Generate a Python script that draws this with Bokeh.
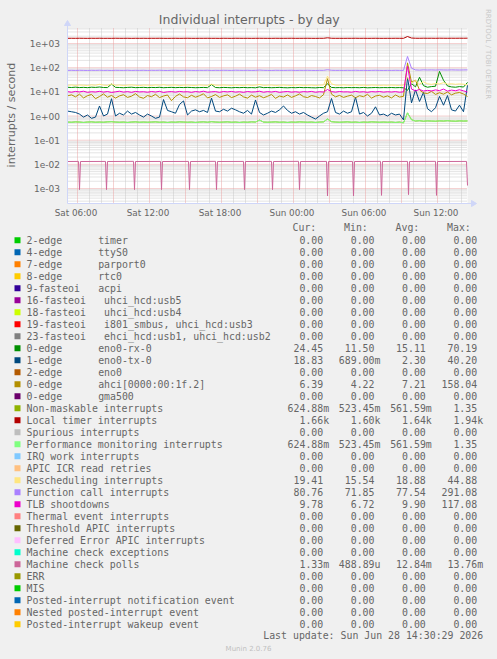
import math
import pandas as pd
from datetime import datetime, timedelta
from bokeh.plotting import figure
from bokeh.models import Range1d, LinearScale, LogScale
from bokeh.core.properties import value
from bokeh.embed import file_html
from bokeh.resources import INLINE

# ---------------- data ----------------
END = datetime(2026, 6, 28, 14, 30)
START = END - timedelta(seconds=120000)
sample_times = pd.date_range(START, END, periods=101)

local_timer = [1640, 1645, 1638, 1650, 1642, 1636, 1648, 1641, 1652, 1639,
               1644, 1637, 1650, 1643, 1640, 1647, 1635, 1645, 1641, 1649,
               1638, 1646, 1642, 1651, 1640, 1636, 1644, 1648, 1639, 1643,
               1650, 1641, 1637, 1645, 1642, 1648, 1640, 1644, 1636, 1647,
               1643, 1639, 1651, 1645, 1640, 1646, 1638, 1642, 1649, 1644,
               1641, 1637, 1648, 1643, 1640, 1645, 1650, 1639, 1644, 1642,
               1647, 1640, 1636, 1645, 1643, 1720, 1649, 1641, 1644, 1638,
               1646, 1642, 1650, 1640, 1645, 1637, 1643, 1648, 1641, 1639,
               1644, 1640, 1647, 1642, 1638, 1940, 1680, 1650, 1645, 1655,
               1648, 1652, 1644, 1658, 1650, 1646, 1653, 1649, 1655, 1651,
               1660]

function_call = [77.2, 77.8, 76.9, 78.1, 77.4, 76.8, 77.9, 77.3, 78.4, 77.0,
                 77.6, 76.7, 78.0, 77.5, 77.1, 78.2, 76.9, 77.7, 77.3, 78.0,
                 76.8, 77.9, 77.4, 78.3, 77.0, 76.6, 77.8, 78.1, 77.2, 77.5,
                 78.0, 77.3, 76.9, 77.7, 77.4, 78.2, 76.8, 77.6, 77.1, 77.9,
                 77.5, 77.0, 78.4, 77.7, 77.2, 77.8, 76.9, 77.4, 79.5, 77.6,
                 77.3, 76.8, 78.0, 77.5, 77.1, 77.7, 78.2, 76.9, 77.6, 77.3,
                 77.8, 77.1, 76.7, 77.6, 77.4, 82.0, 78.0, 77.2, 77.5, 76.9,
                 77.7, 77.3, 78.1, 77.0, 77.6, 76.8, 77.4, 77.9, 77.2, 76.9,
                 77.5, 77.1, 77.8, 77.3, 76.9, 291.1, 95.0, 80.5, 78.9, 81.2,
                 79.8, 80.6, 79.4, 81.0, 80.2, 79.6, 80.9, 80.1, 79.7, 80.4,
                 80.8]

rescheduling = [18.6, 19.2, 18.4, 19.0, 18.8, 18.3, 19.4, 18.7, 20.5, 18.9,
                18.5, 21.0, 18.7, 19.1, 18.4, 18.9, 19.3, 18.6, 18.2, 19.0,
                18.8, 18.4, 19.2, 18.7, 19.6, 18.5, 18.9, 19.1, 18.3, 18.8,
                19.0, 18.6, 18.4, 19.2, 18.8, 18.5, 20.8, 18.9, 18.6, 19.1,
                18.7, 18.3, 19.0, 18.8, 18.4, 19.3, 18.6, 18.9, 20.2, 18.5,
                18.8, 19.1, 18.4, 18.7, 19.0, 18.6, 18.3, 18.9, 19.2, 18.5,
                18.7, 19.0, 18.4, 18.8, 19.1, 44.9, 21.5, 18.9, 18.6, 19.3,
                18.8, 18.5, 19.4, 18.7, 18.9, 18.4, 19.1, 18.8, 18.5, 18.9,
                18.6, 19.0, 18.7, 18.4, 18.9, 40.0, 22.5, 30.0, 21.0, 26.0,
                21.5, 20.4, 22.0, 21.2, 24.0, 20.8, 21.6, 20.5, 21.3, 20.7,
                19.4]

eno0_rx = [15.4, 15.1, 15.6, 15.0, 15.3, 14.9, 15.5, 15.2, 15.8, 15.1,
           15.0, 21.0, 15.3, 15.1, 14.8, 15.2, 15.5, 14.9, 15.1, 15.3,
           14.9, 15.2, 15.0, 15.4, 14.8, 15.1, 15.3, 14.9, 15.2, 15.0,
           15.3, 15.1, 14.8, 15.0, 15.2, 14.9, 20.0, 15.1, 14.8, 15.2,
           15.0, 14.7, 15.1, 14.9, 15.2, 14.8, 15.0, 14.7, 16.0, 14.9,
           15.1, 14.8, 15.0, 15.3, 14.9, 14.7, 15.0, 14.8, 15.2, 14.9,
           15.0, 14.8, 14.6, 15.1, 14.9, 21.5, 15.2, 14.8, 15.0, 14.7,
           15.1, 14.9, 15.0, 14.8, 15.2, 14.7, 14.9, 15.1, 14.8, 15.0,
           14.9, 15.1, 14.8, 15.0, 14.7, 11.5, 22.0, 16.0, 40.0, 18.0,
           15.5, 16.5, 17.0, 70.2, 30.0, 17.5, 16.0, 15.5, 16.5, 15.8,
           24.5]

tlb = [10.2, 9.6, 10.4, 9.9, 10.6, 9.5, 10.1, 9.8, 10.5, 9.7,
       10.3, 9.4, 10.0, 10.6, 9.7, 10.2, 9.5, 10.4, 9.9, 10.1,
       9.6, 10.3, 9.8, 10.5, 9.4, 10.0, 10.2, 9.7, 10.4, 9.9,
       10.1, 9.5, 10.3, 9.8, 10.6, 9.6, 10.0, 10.2, 9.5, 10.3,
       9.9, 10.4, 9.7, 10.1, 9.5, 10.3, 9.8, 10.0, 10.6, 9.6,
       10.2, 9.8, 10.4, 9.5, 10.0, 10.3, 9.7, 10.1, 9.6, 10.2,
       9.9, 10.4, 9.6, 10.1, 9.8, 12.5, 10.2, 9.7, 10.3, 9.9,
       10.0, 9.6, 10.4, 9.8, 10.1, 9.5, 10.2, 9.9, 10.3, 9.7,
       10.1, 9.8, 10.2, 9.6, 10.0, 117.1, 13.0, 11.0, 12.5, 10.8,
       11.5, 10.9, 12.0, 11.2, 13.0, 10.7, 11.8, 11.1, 12.2, 11.0,
       9.8]

ahci = [6.8, 7.5, 6.2, 8.0, 5.6, 6.9, 7.8, 5.2, 6.4, 8.2,
        6.0, 7.1, 5.5, 6.8, 7.6, 5.9, 6.6, 8.4, 6.1, 5.4,
        7.0, 6.3, 7.9, 5.8, 6.7, 7.4, 4.3, 6.5, 8.1, 6.2,
        5.7, 7.2, 6.0, 6.9, 8.3, 5.6, 6.4, 7.7, 5.9, 6.8,
        7.5, 5.8, 6.6, 8.0, 6.2, 5.5, 7.3, 6.0, 6.9, 5.7,
        6.5, 7.8, 5.4, 6.7, 6.1, 7.4, 5.9, 6.8, 8.2, 6.3,
        5.8, 7.0, 6.4, 5.6, 7.6, 35.0, 8.0, 6.2, 7.1, 5.9,
        6.6, 7.3, 5.7, 6.9, 6.3, 7.9, 5.5, 6.7, 7.2, 6.0,
        6.8, 5.6, 7.4, 6.1, 6.5, 158.0, 25.0, 30.0, 12.0, 9.0,
        8.5, 10.5, 7.8, 9.2, 8.0, 9.8, 7.5, 8.8, 9.4, 8.1,
        6.4]

eno0_tx = [1.6, 1.5, 1.4, 1.2, 0.9, 1.1, 0.8, 0.9, 2.6, 1.0,
           1.2, 5.2, 1.0, 1.3, 1.1, 1.6, 1.2, 1.4, 1.1, 0.9,
           1.2, 1.0, 0.8, 0.9, 4.8, 1.7, 1.5, 1.3, 3.0, 4.2,
           1.1, 1.6, 1.8, 1.5, 1.7, 1.4, 5.5, 1.6, 1.5, 1.9,
           1.6, 2.1, 1.8, 1.5, 1.3, 1.7, 1.2, 4.6, 1.4, 1.1,
           1.3, 1.6, 1.4, 1.8, 2.6, 1.7, 1.3, 1.5, 1.2, 1.4,
           1.1, 0.9, 0.75, 1.0, 1.3, 1.5, 5.3, 1.4, 1.2, 1.6,
           1.3, 1.5, 6.0, 1.2, 1.4, 1.0, 1.3, 2.4, 1.1, 1.2,
           1.0, 1.3, 1.1, 1.2, 0.69, 40.2, 3.5, 12.0, 4.0, 9.5,
           2.0, 1.5, 2.2, 6.5, 2.8, 7.0, 1.8, 1.6, 2.8, 1.5,
           18.8]

perf_monitoring = [0.56, 0.55, 0.57, 0.56, 0.54, 0.56, 0.57, 0.55, 0.56, 0.55,
                   0.57, 0.58, 0.56, 0.55, 0.56, 0.54, 0.56, 0.57, 0.55, 0.56,
                   0.55, 0.56, 0.57, 0.55, 0.56, 0.54, 0.56, 0.55, 0.57, 0.56,
                   0.55, 0.56, 0.54, 0.56, 0.57, 0.55, 0.58, 0.56, 0.55, 0.56,
                   0.57, 0.55, 0.56, 0.54, 0.56, 0.55, 0.57, 0.56, 0.68, 0.56,
                   0.55, 0.56, 0.57, 0.55, 0.56, 0.54, 0.56, 0.55, 0.57, 0.56,
                   0.55, 0.56, 0.54, 0.56, 0.57, 0.75, 0.58, 0.56, 0.55, 0.56,
                   0.57, 0.55, 0.56, 0.54, 0.56, 0.55, 0.57, 0.56, 0.55, 0.56,
                   0.55, 0.56, 0.54, 0.56, 0.52, 1.35, 0.70, 0.62, 0.64, 0.61,
                   0.63, 0.62, 0.61, 0.63, 0.62, 0.64, 0.62, 0.61, 0.63, 0.62,
                   0.625]
non_maskable = list(perf_monitoring)

mcp_times = ["2026-06-27 05:10",
             "2026-06-27 06:05", "2026-06-27 06:10", "2026-06-27 06:15",
             "2026-06-27 08:20", "2026-06-27 08:25", "2026-06-27 08:30",
             "2026-06-27 10:40", "2026-06-27 10:45", "2026-06-27 10:50",
             "2026-06-27 12:55", "2026-06-27 13:00", "2026-06-27 13:05",
             "2026-06-27 15:15", "2026-06-27 15:20", "2026-06-27 15:25",
             "2026-06-27 17:30", "2026-06-27 17:35", "2026-06-27 17:40",
             "2026-06-27 19:50", "2026-06-27 19:55", "2026-06-27 20:00",
             "2026-06-27 22:10", "2026-06-27 22:15", "2026-06-27 22:20",
             "2026-06-28 00:25", "2026-06-28 00:30", "2026-06-28 00:35",
             "2026-06-28 02:45", "2026-06-28 02:50", "2026-06-28 02:55",
             "2026-06-28 04:55", "2026-06-28 05:00", "2026-06-28 05:05",
             "2026-06-28 07:15", "2026-06-28 07:20", "2026-06-28 07:25",
             "2026-06-28 09:30", "2026-06-28 09:35", "2026-06-28 09:40",
             "2026-06-28 11:50", "2026-06-28 11:55", "2026-06-28 12:00",
             "2026-06-28 14:25", "2026-06-28 14:30"]
mcp_values = [0.0131,
              0.0132, 0.0009, 0.0131,
              0.0132, 0.0009, 0.0131,
              0.0133, 0.0009, 0.0131,
              0.0132, 0.0009, 0.0131,
              0.0132, 0.0009, 0.0131,
              0.0133, 0.0009, 0.0131,
              0.0132, 0.0009, 0.0131,
              0.0132, 0.0009, 0.0131,
              0.0133, 0.0009, 0.0131,
              0.0132, 0.00049, 0.0131,
              0.0132, 0.00049, 0.0131,
              0.0133, 0.00052, 0.0131,
              0.0132, 0.00056, 0.0131,
              0.0133, 0.00052, 0.0131,
              0.0132, 0.00133]

legend_names = ["2-edge", "4-edge", "7-edge", "8-edge", "9-fasteoi", "16-fasteoi",
                "18-fasteoi", "19-fasteoi", "23-fasteoi", "0-edge", "1-edge", "2-edge",
                "0-edge", "0-edge", "Non-maskable interrupts", "Local timer interrupts",
                "Spurious interrupts", "Performance monitoring interrupts",
                "IRQ work interrupts", "APIC ICR read retries", "Rescheduling interrupts",
                "Function call interrupts", "TLB shootdowns", "Thermal event interrupts",
                "Threshold APIC interrupts", "Deferred Error APIC interrupts",
                "Machine check exceptions", "Machine check polls", "ERR", "MIS",
                "Posted-interrupt notification event", "Nested posted-interrupt event",
                "Posted-interrupt wakeup event"]
legend_desc = ["timer", "ttyS0", "parport0", "rtc0", "acpi", "uhci_hcd:usb5",
               "uhci_hcd:usb4", "i801_smbus, uhci_hcd:usb3", "ehci_hcd:usb1, uhci_hcd:usb2",
               "eno0-rx-0", "eno0-tx-0", "eno0", "ahci[0000:00:1f.2]", "gma500"] + [""] * 19
legend_colors = ["#00CC00", "#0066B3", "#FF8000", "#FFCC00", "#330099", "#990099",
                 "#CCFF00", "#FF0000", "#808080", "#008F00", "#00487D", "#B35A00",
                 "#B38F00", "#6B006B", "#8FB300", "#B30000", "#BEBEBE", "#80FF80",
                 "#80C9FF", "#FFC080", "#FFE680", "#AA80FF", "#EE00CC", "#FF8080",
                 "#666600", "#FFBFFF", "#00FFCC", "#CC6699", "#999900", "#00CC00",
                 "#0066B3", "#FF8000", "#FFCC00"]
Z = "0.00"
cur_vals = [Z] * 9 + ["24.45", "18.83", Z, "6.39", Z, "624.88m", "1.66k", Z, "624.88m",
                      Z, Z, "19.41", "80.76", "9.78", Z, Z, Z, Z, "1.33m", Z, Z, Z, Z, Z]
min_vals = [Z] * 9 + ["11.50", "689.00m", Z, "4.22", Z, "523.45m", "1.60k", Z, "523.45m",
                      Z, Z, "15.54", "71.85", "6.72", Z, Z, Z, Z, "488.89u", Z, Z, Z, Z, Z]
avg_vals = [Z] * 9 + ["15.11", "2.30", Z, "7.21", Z, "561.59m", "1.64k", Z, "561.59m",
                      Z, Z, "18.88", "77.54", "9.90", Z, Z, Z, Z, "12.84m", Z, Z, Z, Z, Z]
max_vals = [Z] * 9 + ["70.19", "40.20", Z, "158.04", Z, "1.35", "1.94k", Z, "1.35",
                      Z, Z, "44.88", "291.08", "117.08", Z, Z, Z, Z, "13.76m", Z, Z, Z, Z, Z]
column_heads = ["Cur:", "Min:", "Avg:", "Max:"]

y_ticks = [1e-3, 1e-2, 1e-1, 1e0, 1e1, 1e2, 1e3]
y_tick_labels = ["1e-03", "1e-02", "1e-01", "1e+00", "1e+01", "1e+02", "1e+03"]
x_tick_times = ["2026-06-27 06:00", "2026-06-27 12:00", "2026-06-27 18:00",
                "2026-06-28 00:00", "2026-06-28 06:00", "2026-06-28 12:00"]
x_tick_labels = ["Sat 06:00", "Sat 12:00", "Sat 18:00", "Sun 00:00", "Sun 06:00", "Sun 12:00"]
Y_MIN, Y_MAX = 10 ** -3.62, 10 ** 3.62

title_text = "Individual interrupts - by day"
y_label_text = "interrupts / second"
last_update_text = "Last update: Sun Jun 28 14:30:29 2026"
watermark_text = "RRDTOOL / TOBI OETIKER"
footer_text = "Munin 2.0.76"

# ---------------- layout (pixels inside the canvas) ----------------
W, H = 497, 659
PL, PR, PT, PB = 67, 467, 28, 203          # plot area
TXT = "#666666"
SANS = "DejaVu Sans"
MONO = "DejaVu Sans Mono"
CW = 5.97                                  # monospace advance
AXIS_COL = "#CFD6F8"


def ms(t):
    return (pd.Timestamp(t) - pd.Timestamp("1970-01-01")).total_seconds() * 1000.0


t0, t1 = ms(START), ms(END)
span = t1 - t0
time_range = Range1d(t0 - PL / (PR - PL) * span, t0 + (W - PL) / (PR - PL) * span)
ld0, ld1 = math.log10(Y_MIN), math.log10(Y_MAX)
pxd = (PB - PT) / (ld1 - ld0)
rate_range = Range1d(10 ** (ld0 - (H - PB) / pxd), 10 ** (ld1 + PT / pxd))

p = figure(width=W, height=H, x_range=Range1d(0, W), y_range=Range1d(H, 0),
           x_axis_location=None, y_axis_location=None, title=None,
           output_backend="svg", toolbar_location=None,
           min_border_left=0, min_border_right=0, min_border_top=0, min_border_bottom=0)
p.extra_x_ranges = {"t": time_range}
p.extra_x_scales = {"t": LinearScale()}
p.extra_y_ranges = {"r": rate_range}
p.extra_y_scales = {"r": LogScale()}
p.background_fill_color = "#F0F0F0"
p.border_fill_color = "#F0F0F0"
p.outline_line_color = None
p.grid.visible = False

R = dict(x_range_name="t", y_range_name="r")

# canvas of the graph
p.quad(left=[t0], right=[t1], bottom=[Y_MIN], top=[Y_MAX], fill_color="#FFFFFF",
       line_color=None, **R)

# grid
minor_y = [k * 10.0 ** e for e in range(-4, 4) for k in range(2, 10)
           if Y_MIN <= k * 10.0 ** e <= Y_MAX]
hours = [ms(t) for t in pd.date_range("2026-06-27 06:00", "2026-06-28 14:00", freq="1h")]
major_x = [h for h in hours if ((h / 3600000.0) % 3) == 0]
minor_x = [h for h in hours if h not in major_x]
GRID_MINOR = dict(line_color="#C8C8C8", line_width=1, line_dash="1 1")
GRID_MAJOR = dict(line_color="#EAA4A4", line_width=1, line_dash="1 1")
p.segment(x0=[t0] * len(minor_y), x1=[t1] * len(minor_y), y0=minor_y, y1=minor_y,
          **GRID_MINOR, **R)
p.segment(x0=minor_x, x1=minor_x, y0=[Y_MIN] * len(minor_x), y1=[Y_MAX] * len(minor_x),
          **GRID_MINOR, **R)
p.segment(x0=[t0] * len(y_ticks), x1=[t1] * len(y_ticks), y0=y_ticks, y1=y_ticks,
          **GRID_MAJOR, **R)
p.segment(x0=major_x, x1=major_x, y0=[Y_MIN] * len(major_x), y1=[Y_MAX] * len(major_x),
          **GRID_MAJOR, **R)

# series (drawn in legend order)
series = [(eno0_rx, "#008F00"), (eno0_tx, "#00487D"), (ahci, "#B38F00"),
          (non_maskable, "#8FB300"), (local_timer, "#B30000"),
          (perf_monitoring, "#80FF80"), (rescheduling, "#FFE680"),
          (function_call, "#AA80FF"), (tlb, "#EE00CC")]
for vals, col in series:
    p.line(sample_times, vals, line_color=col, line_width=1, **R)
p.line(pd.to_datetime(mcp_times), mcp_values, line_color="#CC6699", line_width=1, **R)

# axes lines + arrows
p.segment(x0=[PL, PL], y0=[PB, PB], x1=[PL, PR + 4], y1=[PT - 3, PB],
          line_color=AXIS_COL, line_width=1)
p.patches(xs=[[PL - 3, PL + 3, PL], [PR + 4, PR + 4, PR + 9]],
          ys=[[PT - 3, PT - 3, PT - 8], [PB - 3, PB + 3, PB]],
          fill_color=AXIS_COL, line_color=AXIS_COL)

# tick labels (placed through the data scales)
p.text(x=[t0] * len(y_ticks), y=y_ticks, text=y_tick_labels, x_offset=-7.5,
       text_align="right", text_baseline="middle", text_color=TXT,
       text_font=value(SANS), text_font_size=value("9px"), **R)
p.text(x=[ms(t) for t in x_tick_times], y=[Y_MIN] * len(x_tick_times), text=x_tick_labels,
       x_offset=-1.5, y_offset=4.5, text_align="center", text_baseline="top", text_color=TXT,
       text_font=value(SANS), text_font_size=value("8.8px"), **R)

# title, y label, watermark
p.text(x=[248.8], y=[19], text=[title_text], text_align="center", text_baseline="middle",
       text_color=TXT, text_font=value(SANS), text_font_size=value("12.5px"))
p.text(x=[11], y=[114.5], text=[y_label_text], angle=math.pi / 2, text_align="center",
       text_baseline="middle", text_color=TXT, text_font=value(SANS),
       text_font_size=value("11.1px"))
p.text(x=[487.5], y=[53.5], text=[watermark_text], angle=-math.pi / 2, text_align="center",
       text_baseline="middle", text_color="#C8C8C8", text_font=value(SANS),
       text_font_size=value("7px"))

# legend
ROW0, ROWH = 239.7, 12.0
rows_y = [ROW0 + ROWH * k for k in range(len(legend_names))]
p.quad(left=[14] * len(rows_y), right=[20] * len(rows_y),
       top=[y - 3 for y in rows_y], bottom=[y + 3 for y in rows_y],
       fill_color=legend_colors, line_color=None)
MONO_TXT = dict(text_color=TXT, text_font=value(MONO), text_font_size=value("9.9px"),
                text_baseline="middle")
p.text(x=[26] * len(rows_y), y=rows_y, text=legend_names, text_align="left", **MONO_TXT)
dx, dy, dt = [], [], []
for k, d in enumerate(legend_desc):
    if d:
        dx.append(26 + max(12, len(legend_names[k]) + 3) * CW)
        dy.append(rows_y[k])
        dt.append(d)
p.text(x=dx, y=dy, text=dt, text_align="left", **MONO_TXT)
p.text(x=[292, 343.5, 395, 446.5], y=[227] * 4, text=column_heads, text_align="left",
       **MONO_TXT)
val_right = [322.7, 374.0, 425.3, 476.7]
vx, vy, vt = [], [], []
for xr, vals in zip(val_right, (cur_vals, min_vals, avg_vals, max_vals)):
    for k, v in enumerate(vals):
        vx.append(xr + (CW if v[-1].isalpha() else 0))
        vy.append(rows_y[k])
        vt.append(v)
p.text(x=vx, y=vy, text=vt, text_align="right", **MONO_TXT)
p.text(x=[482.7], y=[635], text=[last_update_text], text_align="right", **MONO_TXT)
p.text(x=[248], y=[648], text=[footer_text], text_align="center", text_baseline="middle",
       text_color="#C0C0C0", text_font=value(SANS), text_font_size=value("7px"))

html = file_html(p, INLINE)
html = html.replace("</head>", "<style>body{background-color:#F0F0F0;}</style></head>", 1)
open("out.html", "w").write(html)
